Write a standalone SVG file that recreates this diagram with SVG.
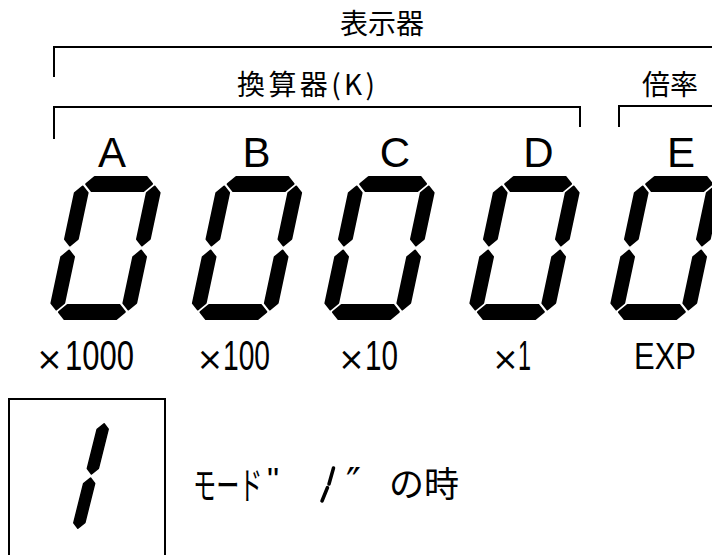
<svg xmlns="http://www.w3.org/2000/svg" xmlns:xlink="http://www.w3.org/1999/xlink" width="712" height="555" viewBox="0 0 712 555">
<style>
.seg{fill:#000;stroke:#000;stroke-width:1.8;stroke-linejoin:round}
.br{fill:none;stroke:#000;stroke-width:2}
.lat{font-family:"Liberation Sans",Arial,sans-serif;fill:#000}
.cjk{font-family:"Noto Sans CJK JP","Noto Sans CJK SC",sans-serif;fill:#000}
.let{font-size:42px;text-anchor:middle}
.mul{font-size:42px}
.x{font-family:"DejaVu Sans",sans-serif;font-size:32px;fill:#000}
</style>
<defs>
<g id="zero">
<polygon class="seg" points="-33,-64 -26,-71 26,-71 33,-64 26,-57 -26,-57"/>
<polygon class="seg" points="-36,-61.5 -29.5,-55 -29.5,-9 -36,-2.5 -42.5,-9 -42.5,-55"/>
<polygon class="seg" points="36,-61.5 42.5,-55 42.5,-9 36,-2.5 29.5,-9 29.5,-55"/>
<polygon class="seg" points="-36,2.5 -29.5,9 -29.5,55 -36,61.5 -42.5,55 -42.5,9"/>
<polygon class="seg" points="36,2.5 42.5,9 42.5,55 36,61.5 29.5,55 29.5,9"/>
<polygon class="seg" points="-33,64 -26,57 26,57 33,64 26,71 -26,71"/>
</g>
<g id="one">
<polygon class="seg" points="36,-61.5 42.5,-55 42.5,-9 36,-2.5 29.5,-9 29.5,-55"/>
<polygon class="seg" points="36,2.5 42.5,9 42.5,55 36,61.5 29.5,55 29.5,9"/>
</g>
</defs>

<g id="brackets">
<path class="br" d="M54,77 V47 H712"/>
<path class="br" d="M54,139 V107 H580 V127"/>
<path class="br" d="M619,127 V106 H712"/>
</g>

<g id="title-display">
<text class="cjk" x="340" y="34" font-size="28">表示器</text>
</g>
<g id="title-converter">
<text class="cjk" x="237" y="95" font-size="28" textLength="138" lengthAdjust="spacing">換算器(K)</text>
</g>
<g id="title-ratio">
<text class="cjk" x="642" y="95" font-size="28">倍率</text>
</g>

<g id="digit-A">
<text class="lat let" x="112" y="167">A</text>
<use xlink:href="#zero" href="#zero" transform="translate(105.5,248) skewX(-12)"/>
<text class="x" x="36" y="370">×</text>
<text class="lat mul" x="65" y="370" textLength="69" lengthAdjust="spacingAndGlyphs">1000</text>
</g>
<g id="digit-B">
<text class="lat let" x="256.5" y="167">B</text>
<use xlink:href="#zero" href="#zero" transform="translate(247,248) skewX(-12)"/>
<text class="x" x="196.5" y="370">×</text>
<text class="lat mul" x="223" y="370" textLength="47" lengthAdjust="spacingAndGlyphs">100</text>
</g>
<g id="digit-C">
<text class="lat let" x="395" y="167">C</text>
<use xlink:href="#zero" href="#zero" transform="translate(379.5,248) skewX(-12)"/>
<text class="x" x="338" y="370">×</text>
<text class="lat mul" x="365" y="370" textLength="33" lengthAdjust="spacingAndGlyphs">10</text>
</g>
<g id="digit-D">
<text class="lat let" x="538.5" y="167">D</text>
<use xlink:href="#zero" href="#zero" transform="translate(524.5,248) skewX(-12)"/>
<text class="x" x="492" y="370">×</text>
<text class="lat mul" x="518" y="370" textLength="13" lengthAdjust="spacingAndGlyphs">1</text>
</g>
<g id="digit-E">
<text class="lat let" x="681" y="167">E</text>
<use xlink:href="#zero" href="#zero" transform="translate(665.5,248) skewX(-12)"/>
<text class="lat" x="634" y="369" font-size="36" textLength="62" lengthAdjust="spacingAndGlyphs">EXP</text>
</g>

<g id="mode-box">
<rect x="9" y="399" width="156" height="170" fill="none" stroke="#000" stroke-width="2"/>
<use xlink:href="#one" href="#one" transform="translate(60.4,476) skewX(-14) scale(0.85)"/>
</g>

<g id="mode-text">
<text class="cjk" x="0" y="0" font-size="38" transform="translate(193,499) scale(0.61,1)">モード</text>
<text class="lat" x="267" y="491" font-size="34">"</text>
<line x1="333.5" y1="468" x2="329" y2="484" stroke="#000" stroke-width="3.5" stroke-linecap="round"/>
<line x1="327.5" y1="487.5" x2="322" y2="501" stroke="#000" stroke-width="3.5" stroke-linecap="round"/>
<text x="346" y="497" font-size="40" font-family="DejaVu Sans, sans-serif">″</text>
<text class="cjk" x="389" y="497" font-size="35">の時</text>
</g>
</svg>
